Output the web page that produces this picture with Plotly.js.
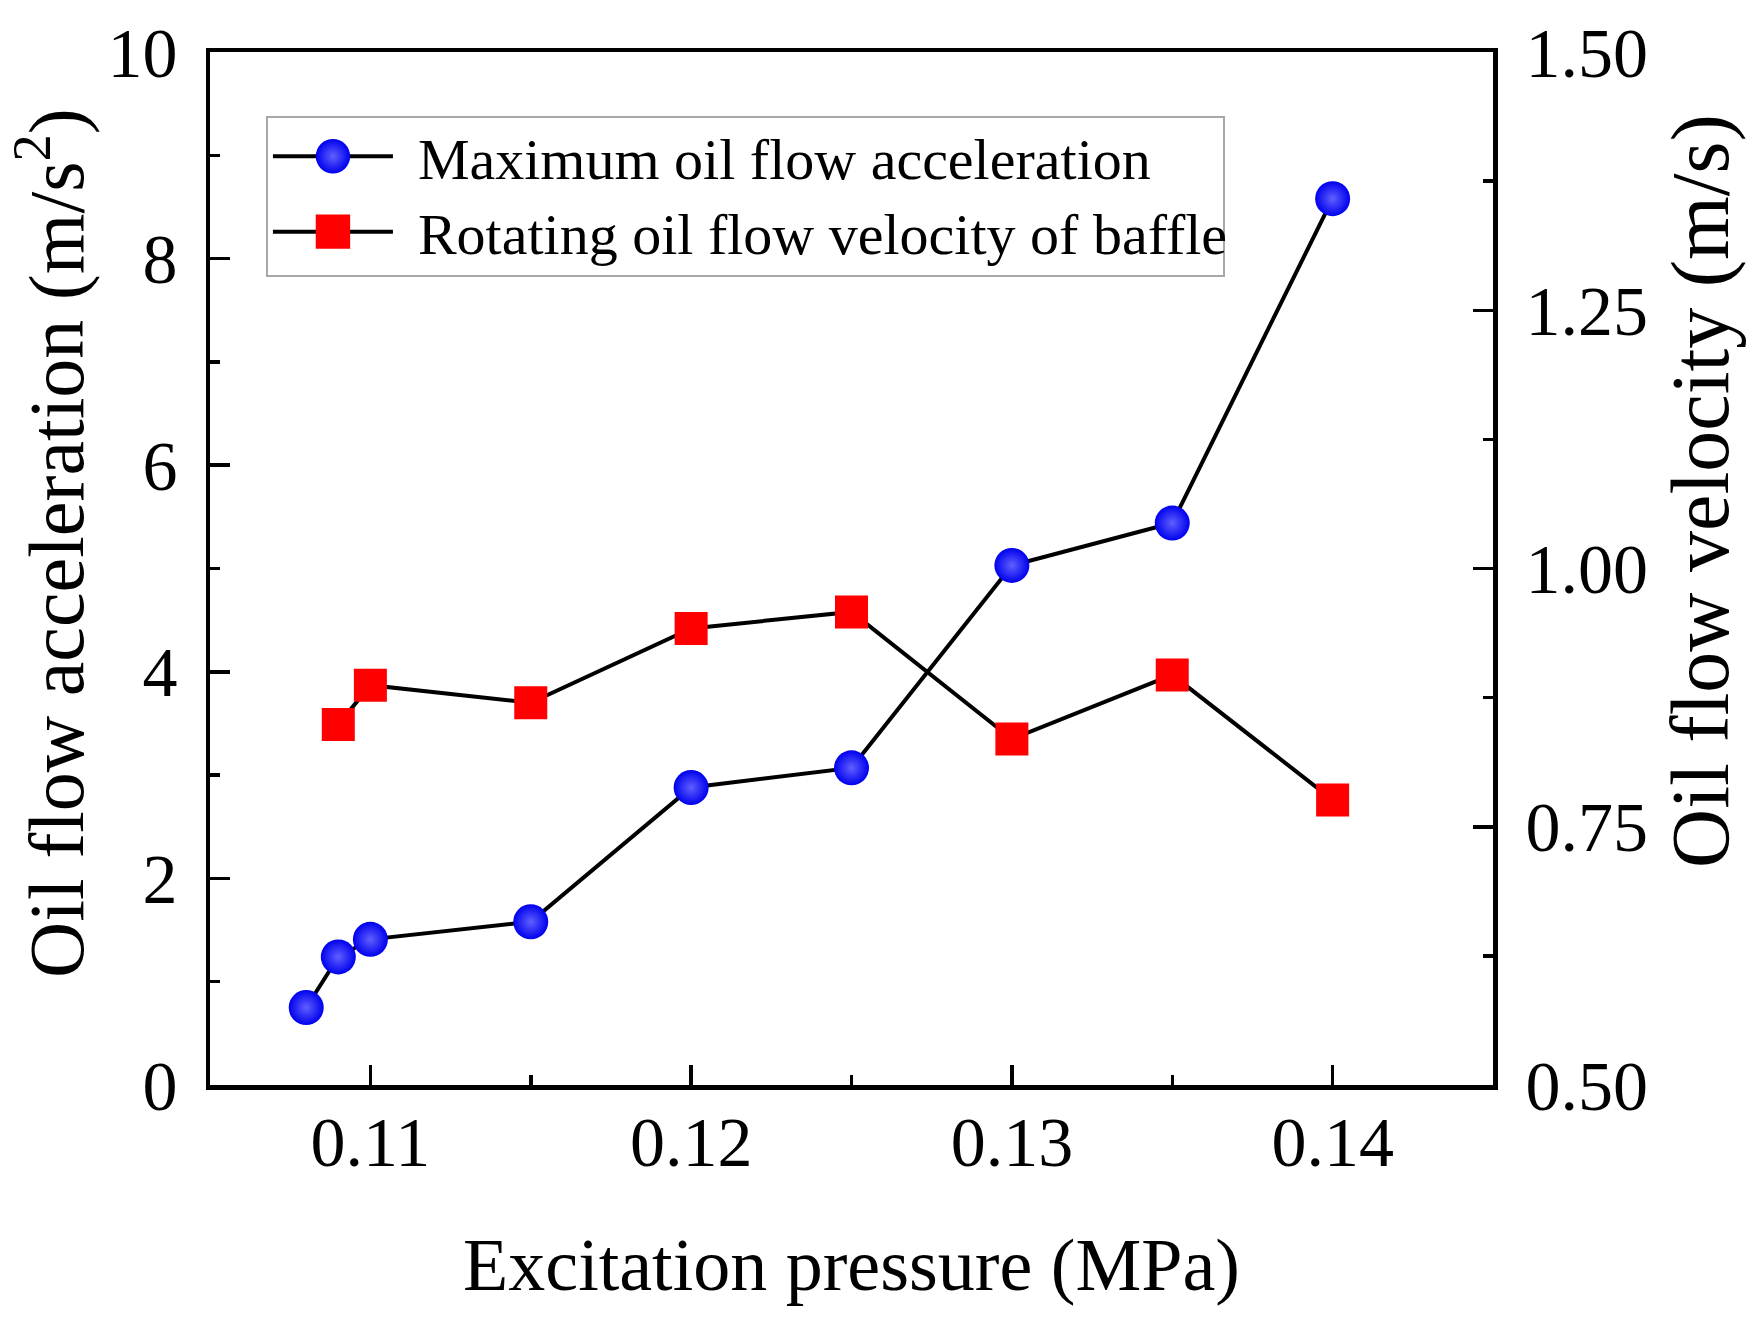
<!DOCTYPE html>
<html>
<head>
<meta charset="utf-8">
<script src="https://cdn.plot.ly/plotly-3.0.1.min.js"></script>
<style>html,body{margin:0;padding:0;background:#fff}#chart{width:1750px;height:1320px}</style>
</head>
<body>
<div id="chart"></div>
<script>
// Excitation pressure (MPa)
var pressureAcc = [0.108, 0.109, 0.110, 0.115, 0.120, 0.125, 0.130, 0.135, 0.140];
// Maximum oil flow acceleration (m/s^2)
var accelValues = [0.75, 1.24, 1.41, 1.58, 2.88, 3.07, 5.03, 5.44, 8.58];
var pressureVel = [0.109, 0.110, 0.115, 0.120, 0.125, 0.130, 0.135, 0.140];
// Rotating oil flow velocity of baffle (m/s)
var velocityValues = [0.849, 0.887, 0.870, 0.942, 0.958, 0.835, 0.897, 0.776];

var seriesNames = ["Maximum oil flow acceleration", "Rotating oil flow velocity of baffle"];
var xTitle = "Excitation pressure (MPa)";
var y1Title = "Oil flow acceleration (m/s<sup>2</sup>)";
var y2Title = "Oil flow velocity (m/s)";
var xTickVals = [0.11, 0.12, 0.13, 0.14];
var xTickText = ["0.11", "0.12", "0.13", "0.14"];
var y1TickVals = [0, 2, 4, 6, 8, 10];
var y2TickVals = [0.5, 0.75, 1.0, 1.25, 1.5];
var y2TickText = ["0.50", "0.75", "1.00", "1.25", "1.50"];

var FONT = "Liberation Serif, Times New Roman, serif";

var traces = [
  {
    x: pressureAcc, y: accelValues, name: seriesNames[0],
    type: "scatter", mode: "lines+markers", yaxis: "y",
    line: {color: "#000", width: 4},
    marker: {symbol: "circle", size: 35, color: "#0000ee",
      gradient: {type: "radial", color: "#6060ff"}, line: {width: 0}}
  },
  {
    x: pressureVel, y: velocityValues, name: seriesNames[1],
    type: "scatter", mode: "lines+markers", yaxis: "y2",
    line: {color: "#000", width: 4},
    marker: {symbol: "square", size: 33, color: "#ff0000", line: {width: 0}}
  }
];

var axisCommon = {
  showline: true, linecolor: "#000", linewidth: 4.5,
  ticks: "inside", ticklen: 20, tickwidth: 3.5, tickcolor: "#000",
  showgrid: false, zeroline: false,
  tickfont: {family: FONT, size: 70, color: "#000"}
};

var layout = {
  width: 1750, height: 1320,
  paper_bgcolor: "#fff", plot_bgcolor: "#fff",
  margin: {l: 210, r: 257, t: 52, b: 235},
  font: {family: FONT, color: "#000"},
  showlegend: true,
  legend: {
    x: 0.0436, y: 0.938, xanchor: "left", yanchor: "top",
    bgcolor: "#fff", bordercolor: "#a8a8a8", borderwidth: 2,
    font: {family: FONT, size: 58, color: "#000"},
    itemwidth: 120, tracegroupgap: 0
  },
  xaxis: Object.assign({}, axisCommon, {
    range: [0.105, 0.145], tickvals: xTickVals, ticktext: xTickText,
    mirror: true, ticklabelstandoff: -8,
    minor: {dtick: 0.005, tick0: 0.105, ticks: "inside", ticklen: 10, tickwidth: 3.5, tickcolor: "#000"},
    title: {text: xTitle, font: {family: FONT, size: 74, color: "#000"}, standoff: 60}
  }),
  yaxis: Object.assign({}, axisCommon, {
    range: [0, 10], tickvals: y1TickVals, ticklabelstandoff: 14,
    minor: {dtick: 1, tick0: 0, ticks: "inside", ticklen: 10, tickwidth: 3.5, tickcolor: "#000"}
  }),
  yaxis2: Object.assign({}, axisCommon, {
    range: [0.5, 1.5], tickvals: y2TickVals, ticktext: y2TickText,
    overlaying: "y", side: "right", ticklabelstandoff: 14,
    minor: {dtick: 0.125, tick0: 0.5, ticks: "inside", ticklen: 10, tickwidth: 3.5, tickcolor: "#000"}
  }),
  annotations: [
    {text: y1Title, xref: "paper", yref: "paper",
     x: (50 - 210) / 1283, y: (1085 - 543) / 1033, xanchor: "center", yanchor: "middle",
     textangle: -90, showarrow: false, font: {family: FONT, size: 78, color: "#000"}},
    {text: y2Title, xref: "paper", yref: "paper",
     x: (1700 - 210) / 1283, y: (1085 - 491) / 1033, xanchor: "center", yanchor: "middle",
     textangle: -90, showarrow: false, font: {family: FONT, size: 82, color: "#000"}}
  ]
};

function parseTranslate(s) {
  var m = /translate\(\s*([-\d.]+)[ ,]+([-\d.]+)\s*\)/.exec(s || "");
  return m ? [parseFloat(m[1]), parseFloat(m[2])] : [0, 0];
}

Plotly.newPlot("chart", traces, layout, {displayModeBar: false, staticPlot: true}).then(function (gd) {
  var SHIFT = 20;
  gd.querySelectorAll(".legend .legendpoints path.scatterpts").forEach(function (p) {
    var t = p.getAttribute("transform") || "";
    p.setAttribute("transform", t + " scale(2.15)");
  });
  gd.querySelectorAll(".legend .legendlines path").forEach(function (p) {
    p.style.strokeWidth = "4px";
  });
  gd.querySelectorAll(".legend text.legendtext").forEach(function (t) {
    var x = parseFloat(t.getAttribute("x")) || 0;
    t.setAttribute("x", x + SHIFT);
  });
  gd.querySelectorAll(".legend rect.bg").forEach(function (r) {
    var w = parseFloat(r.getAttribute("width")) || 0;
    var h = parseFloat(r.getAttribute("height")) || 0;
    r.setAttribute("width", w + 10);
    r.setAttribute("height", h - 10);
  });
  document.querySelectorAll("clipPath[id^='legend'] rect").forEach(function (r) {
    var w = parseFloat(r.getAttribute("width")) || 0;
    r.setAttribute("width", w + 60);
  });
  var rowShift = [-6, -9];
  gd.querySelectorAll(".legend g.traces").forEach(function (g, i) {
    var tr = parseTranslate(g.getAttribute("transform"));
    g.setAttribute("transform", "translate(" + tr[0] + "," + (tr[1] + (rowShift[i] || 0)) + ")");
  });
});
</script>
</body>
</html>
